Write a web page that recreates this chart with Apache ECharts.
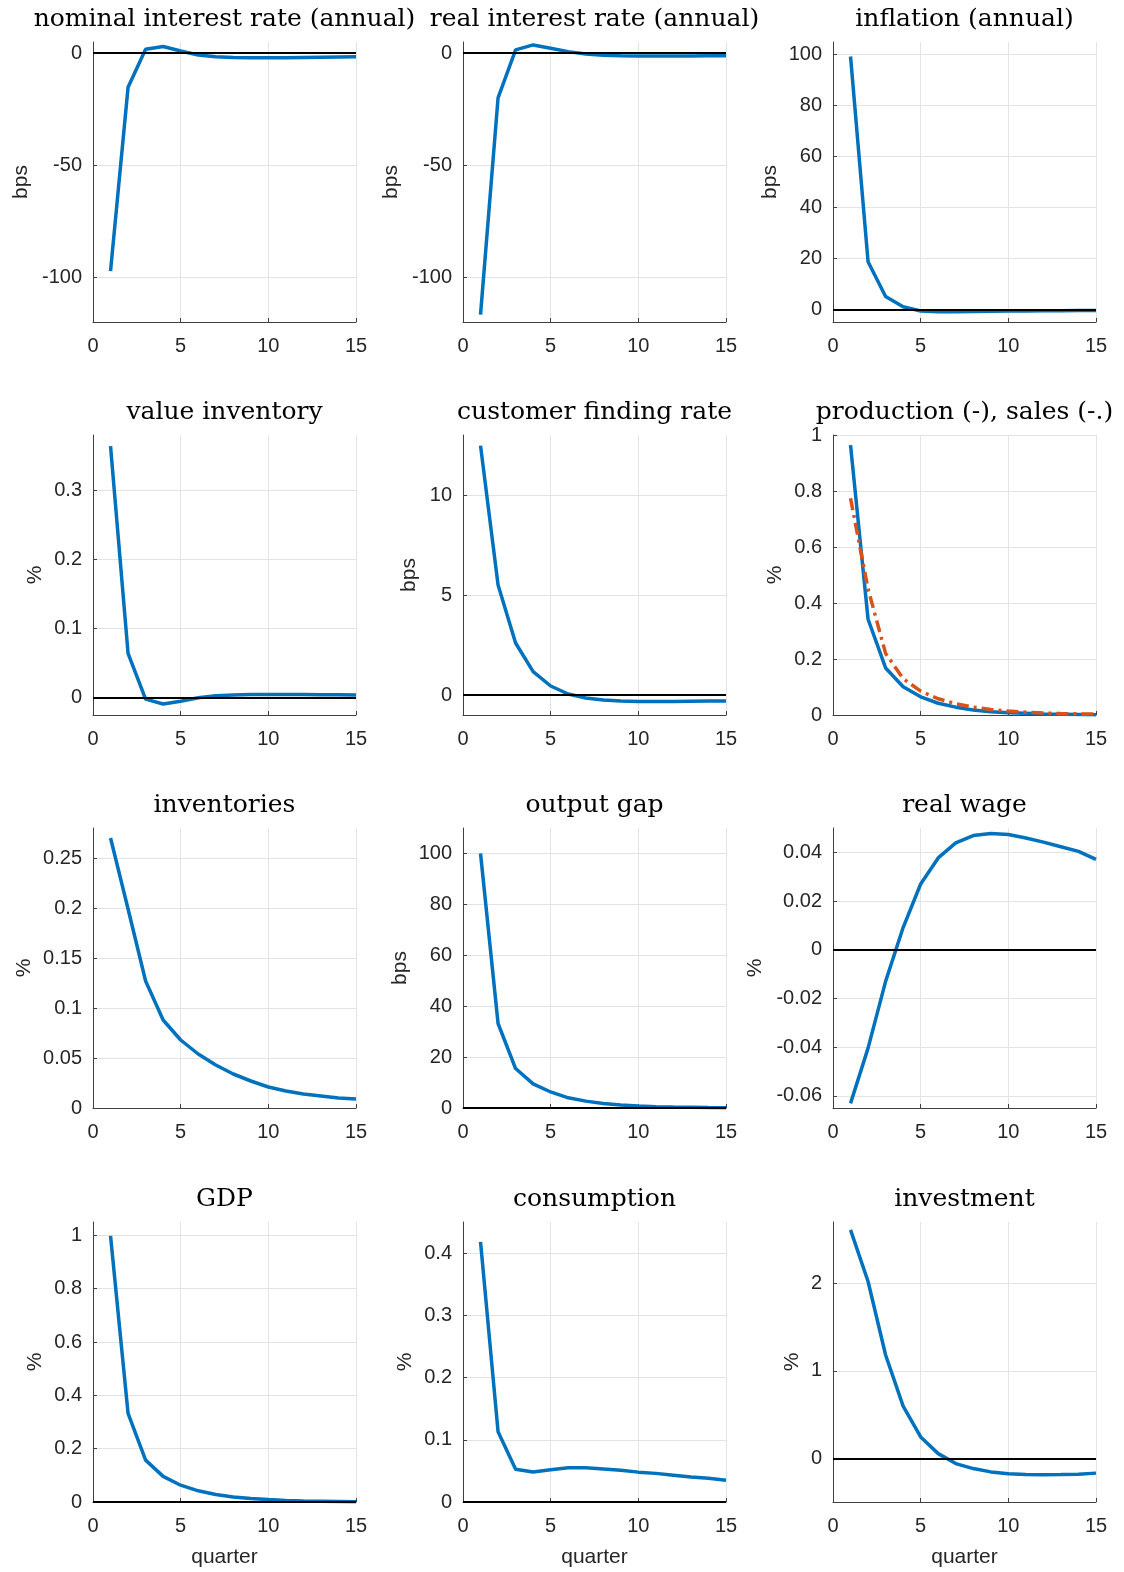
<!DOCTYPE html>
<html><head><meta charset="utf-8">
<script src="https://cdn.jsdelivr.net/npm/echarts@6/dist/echarts.min.js"></script>
<style>html,body{margin:0;padding:0;background:#fff}#c{width:1124px;height:1572px}</style>
</head><body><div id="c"></div>
<script>
// ---------- data ----------
const quarters = [1,2,3,4,5,6,7,8,9,10,11,12,13,14,15];
const xTicks = [0,5,10,15];

const nominalRate = [-97.3,-15.2,1.8,3.0,1.0,-0.8,-1.6,-1.9,-2.0,-2.0,-2.0,-1.9,-1.8,-1.7,-1.6];
const realRate = [-116.7,-19.9,1.5,3.7,2.2,0.7,-0.4,-0.9,-1.1,-1.2,-1.2,-1.2,-1.2,-1.1,-1.1];
const inflation = [99.3,18.7,5.0,1.0,-0.7,-1.0,-1.0,-0.9,-0.8,-0.7,-0.7,-0.6,-0.6,-0.5,-0.5];
const valueInventory = [0.364,0.064,-0.002,-0.009,-0.005,0.0,0.003,0.004,0.0045,0.0045,0.0045,0.0045,0.0043,0.0042,0.004];
const customerFinding = [12.47,5.5,2.6,1.17,0.45,0.05,-0.15,-0.25,-0.3,-0.32,-0.32,-0.32,-0.31,-0.3,-0.3];
const production = [0.964,0.342,0.168,0.101,0.065,0.042,0.028,0.018,0.012,0.008,0.006,0.004,0.003,0.002,0.001];
const sales = [0.774,0.45,0.22,0.13,0.085,0.058,0.04,0.028,0.02,0.014,0.01,0.007,0.005,0.004,0.003];
const inventories = [0.270,0.199,0.127,0.088,0.068,0.054,0.043,0.034,0.027,0.021,0.017,0.014,0.012,0.010,0.009];
const outputGap = [100,33.2,15.5,9.5,6.3,4.0,2.7,1.8,1.2,0.8,0.5,0.35,0.25,0.15,0.1];
const realWage = [-0.0631,-0.0404,-0.013,0.0091,0.027,0.0377,0.0439,0.0469,0.0477,0.0473,0.0459,0.0442,0.0423,0.0404,0.0371];
const gdp = [0.998,0.332,0.157,0.096,0.063,0.042,0.028,0.019,0.013,0.009,0.006,0.004,0.003,0.002,0.001];
const consumption = [0.418,0.113,0.0526,0.0483,0.052,0.055,0.055,0.053,0.051,0.048,0.046,0.043,0.040,0.038,0.035];
const investment = [2.61,2.02,1.18,0.595,0.244,0.053,-0.061,-0.118,-0.156,-0.176,-0.185,-0.188,-0.187,-0.182,-0.17];

const ticksRate = [-100,-50,0];
const ticksInflation = [0,20,40,60,80,100];
const ticksValueInv = [0,0.1,0.2,0.3];
const ticksFinding = [0,5,10];
const ticksProd = [0,0.2,0.4,0.6,0.8,1];
const ticksInv = [0,0.05,0.1,0.15,0.2,0.25];
const ticksGap = [0,20,40,60,80,100];
const ticksWage = [-0.06,-0.04,-0.02,0,0.02,0.04];
const ticksGdp = [0,0.2,0.4,0.6,0.8,1];
const ticksCons = [0,0.1,0.2,0.3,0.4];
const ticksInvest = [0,1,2];

// ---------- panels ----------
const panels = [
  {title:'nominal interest rate (annual)', unit:'bps', series:[nominalRate], ticks:ticksRate, min:-120, max:5, zero:true, gap:61},
  {title:'real interest rate (annual)', unit:'bps', series:[realRate], ticks:ticksRate, min:-120, max:5, zero:true, gap:61},
  {title:'inflation (annual)', unit:'bps', series:[inflation], ticks:ticksInflation, min:-5, max:105, zero:true, gap:52},
  {title:'value inventory', unit:'%', series:[valueInventory], ticks:ticksValueInv, min:-0.025, max:0.38, zero:true, gap:47},
  {title:'customer finding rate', unit:'bps', series:[customerFinding], ticks:ticksFinding, min:-1, max:13, zero:true, gap:43},
  {title:'production (-), sales (-.)', unit:'%', series:[production, sales], ticks:ticksProd, min:0, max:1, zero:false, gap:47},
  {title:'inventories', unit:'%', series:[inventories], ticks:ticksInv, min:0, max:0.28, zero:false, gap:58},
  {title:'output gap', unit:'bps', series:[outputGap], ticks:ticksGap, min:0, max:110, zero:true, gap:52},
  {title:'real wage', unit:'%', series:[realWage], ticks:ticksWage, min:-0.065, max:0.05, zero:true, gap:67},
  {title:'GDP', unit:'%', series:[gdp], ticks:ticksGdp, min:0, max:1.05, zero:true, gap:47},
  {title:'consumption', unit:'%', series:[consumption], ticks:ticksCons, min:0, max:0.45, zero:true, gap:47},
  {title:'investment', unit:'%', series:[investment], ticks:ticksInvest, min:-0.5, max:2.7, zero:true, gap:30}
];

const colLeft = [93, 463, 833];
const rowTop = [42, 435, 828, 1222];
const W = 263, H = 280;
const TXT = '#262626';
const lineColors = ['#0072BD', '#D95319'];

const fmt = v => String(+(+v).toFixed(6));

const option = {
  animation: false,
  backgroundColor: '#fff',
  title: [], grid: [], xAxis: [], yAxis: [], series: []
};

panels.forEach((p, i) => {
  const r = Math.floor(i / 3), c = i % 3;
  const left = colLeft[c], top = rowTop[r];
  option.grid.push({left: left, top: top, width: W, height: H, containLabel: false});
  option.title.push({
    text: p.title, left: left + W / 2, top: top - 35, textAlign: 'center', padding: 0,
    textStyle: {fontFamily: 'DejaVu Serif', fontWeight: 'normal', fontSize: 25, color: '#000'}
  });
  option.xAxis.push({
    type: 'value', gridIndex: i, min: 0, max: 15, interval: 5,
    name: r === 3 ? 'quarter' : '', nameLocation: 'middle', nameGap: 45,
    nameTextStyle: {fontFamily: 'Liberation Sans', fontSize: 21, color: TXT},
    axisLine: {show: true, onZero: false, lineStyle: {color: '#404040', width: 1}},
    axisTick: {show: true, inside: true, length: 4, lineStyle: {color: '#404040'}},
    axisLabel: {margin: 14, fontFamily: 'Liberation Sans', fontSize: 20, color: TXT, formatter: fmt},
    splitLine: {show: true, lineStyle: {color: '#e3e3e3', width: 1}}
  });
  option.yAxis.push({
    type: 'value', gridIndex: i, min: p.min, max: p.max,
    name: p.unit, nameLocation: 'middle', nameGap: p.gap,
    nameTextStyle: {fontFamily: 'Liberation Sans', fontSize: 21, color: TXT},
    axisLine: {show: true, onZero: false, lineStyle: {color: '#404040', width: 1}},
    axisTick: {show: true, inside: true, length: 4, customValues: p.ticks, lineStyle: {color: '#404040'}},
    axisLabel: {margin: 11, fontFamily: 'Liberation Sans', fontSize: 20, color: TXT, customValues: p.ticks, formatter: fmt, showMinLabel: true, showMaxLabel: true},
    splitLine: {show: true, lineStyle: {color: '#e3e3e3', width: 1}}
  });
  p.series.forEach((s, k) => {
    const ser = {
      type: 'line', xAxisIndex: i, yAxisIndex: i, showSymbol: false, symbol: 'none',
      data: quarters.map((q, j) => [q, s[j]]),
      lineStyle: {color: lineColors[k], width: 3.5, type: k === 1 ? [12, 5, 3, 5] : 'solid'},
      z: 3 + k, silent: true
    };
    if (k === 0 && p.zero) {
      ser.markLine = {
        silent: true, symbol: 'none', label: {show: false}, animation: false,
        lineStyle: {color: '#000', width: 2, type: 'solid'},
        data: [{yAxis: 0}]
      };
    }
    option.series.push(ser);
  });
});

const chart = echarts.init(document.getElementById('c'), null, {renderer: 'canvas'});
chart.setOption(option);
</script>
</body></html>
